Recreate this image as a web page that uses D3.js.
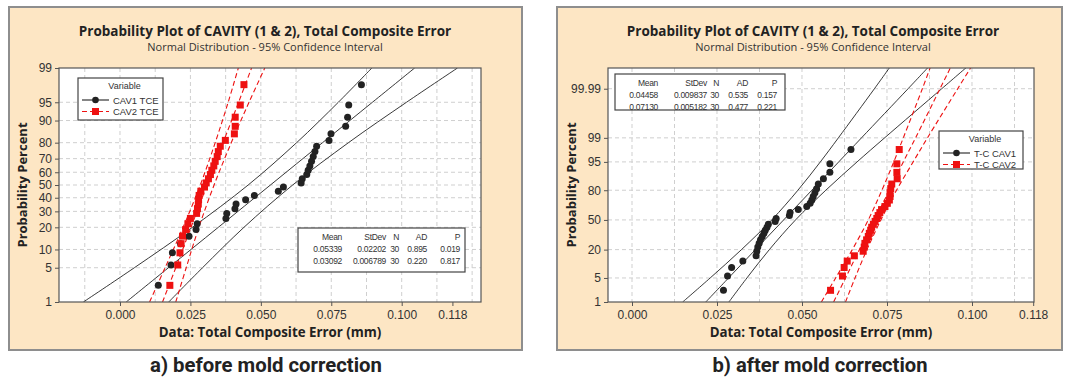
<!DOCTYPE html>
<html>
<head>
<meta charset="utf-8">
<script src="https://cdn.jsdelivr.net/npm/d3@7"></script>
<style>
  body { margin: 0; background: #fff; }
  svg { display: block; }
</style>
</head>
<body>
<svg id="chart" width="1065" height="377"></svg>
<script>
// median-rank plotting positions (%), n = 30
const plotPct = [2.30, 5.59, 8.88, 12.17, 15.46, 18.75, 22.04, 25.33, 28.62, 31.91,
  35.20, 38.49, 41.78, 45.07, 48.36, 51.64, 54.93, 58.22, 61.51, 64.80,
  68.09, 71.38, 74.67, 77.96, 81.25, 84.54, 87.83, 91.12, 94.41, 97.70];

// a) before mold correction
const beforeCav1 = [0.0136, 0.0181, 0.0186, 0.0215, 0.0245, 0.0270, 0.0274, 0.0376, 0.0379, 0.0408,
  0.0412, 0.0446, 0.0477, 0.0562, 0.0580, 0.0643, 0.0647, 0.0663, 0.0668, 0.0674,
  0.0680, 0.0686, 0.0692, 0.0698, 0.0742, 0.0749, 0.0801, 0.0808, 0.0812, 0.0857];
const beforeCav2 = [0.0177, 0.0205, 0.0213, 0.0217, 0.0222, 0.0233, 0.0241, 0.0250, 0.0272, 0.0275,
  0.0278, 0.0279, 0.0281, 0.0287, 0.0300, 0.0306, 0.0314, 0.0321, 0.0326, 0.0333,
  0.0338, 0.0345, 0.0349, 0.0356, 0.0374, 0.0406, 0.0409, 0.0409, 0.0427, 0.0440];
const beforeBandPct = [1, 5, 20, 50, 80, 95, 99];
const beforeCav1Lo  = [-0.0130, 0.0051, 0.0257, 0.0455, 0.0627, 0.0775, 0.0894];
const beforeCav1Fit = [0.0022, 0.0172, 0.0349, 0.0534, 0.0719, 0.0896, 0.1046];
const beforeCav1Hi  = [0.0173, 0.0293, 0.0440, 0.0613, 0.0811, 0.1017, 0.1198];
const beforeCav2Lo  = [0.0105, 0.0160, 0.0224, 0.0285, 0.0338, 0.0384, 0.0420];
const beforeCav2Fit = [0.0151, 0.0198, 0.0252, 0.0309, 0.0366, 0.0421, 0.0467];
const beforeCav2Hi  = [0.0198, 0.0235, 0.0280, 0.0334, 0.0395, 0.0458, 0.0514];
const beforeStats = [
  ['0.05339', '0.02202', '30', '0.895', '0.019'],
  ['0.03092', '0.006789', '30', '0.220', '0.817']
];

// b) after mold correction
const afterCav1 = [0.0269, 0.0281, 0.0293, 0.0326, 0.0365, 0.0367, 0.0370, 0.0374, 0.0378, 0.0383,
  0.0388, 0.0392, 0.0397, 0.0401, 0.0421, 0.0424, 0.0463, 0.0465, 0.0489, 0.0514,
  0.0524, 0.0529, 0.0533, 0.0538, 0.0543, 0.0548, 0.0563, 0.0582, 0.0582, 0.0644];
const afterCav2 = [0.0584, 0.0619, 0.0624, 0.0633, 0.0654, 0.0680, 0.0683, 0.0685, 0.0690, 0.0695,
  0.0698, 0.0702, 0.0705, 0.0710, 0.0715, 0.0720, 0.0724, 0.0729, 0.0734, 0.0744,
  0.0751, 0.0757, 0.0759, 0.0759, 0.0761, 0.0764, 0.0780, 0.0779, 0.0779, 0.0786];
const afterBandPct = [1, 5, 20, 50, 80, 95, 99, 99.99, 99.9995];
const afterCav1Lo  = [0.0149, 0.0230, 0.0322, 0.0411, 0.0488, 0.0554, 0.0607, 0.0713, 0.0765];
const afterCav1Fit = [0.0217, 0.0284, 0.0363, 0.0446, 0.0529, 0.0608, 0.0675, 0.0812, 0.0880];
const afterCav1Hi  = [0.0285, 0.0338, 0.0404, 0.0481, 0.0570, 0.0662, 0.0743, 0.0911, 0.0995];
const afterCav2Lo  = [0.0557, 0.0599, 0.0648, 0.0695, 0.0735, 0.0770, 0.0798, 0.0854, 0.0881];
const afterCav2Fit = [0.0593, 0.0628, 0.0669, 0.0713, 0.0757, 0.0798, 0.0834, 0.0906, 0.0942];
const afterCav2Hi  = [0.0628, 0.0656, 0.0691, 0.0732, 0.0778, 0.0827, 0.0869, 0.0958, 0.1003];
const afterStats = [
  ['0.04458', '0.009837', '30', '0.535', '0.157'],
  ['0.07130', '0.005182', '30', '0.477', '0.221']
];

// ticks
const xTicks = [0, 0.025, 0.05, 0.075, 0.1, 0.118];
const xGrid = [-0.0125, 0, 0.0125, 0.025, 0.0375, 0.05, 0.0625, 0.075, 0.0875, 0.1, 0.1125, 0.125];
const beforeYTicks = [1, 5, 10, 20, 30, 40, 50, 60, 70, 80, 90, 95, 99];
const afterYTicks = [1, 5, 20, 50, 80, 95, 99, 99.99];
const statHeader = ['Mean', 'StDev', 'N', 'AD', 'P'];

const FONT = '"Open Sans", "DejaVu Sans", sans-serif';
const SMALL = '"Liberation Sans", Arial, sans-serif';
const RED = '#ee1111';
const svg = d3.select('#chart');

// inverse normal CDF (Acklam)
function probit(p) {
  const a = [-3.969683028665376e+01, 2.209460984245205e+02, -2.759285104469687e+02, 1.383577518672690e+02, -3.066479806614716e+01, 2.506628277459239e+00];
  const b = [-5.447609879822406e+01, 1.615858368580409e+02, -1.556989798598866e+02, 6.680131188771972e+01, -1.328068155288572e+01];
  const c = [-7.784894002430293e-03, -3.223964580411365e-01, -2.400758277161838e+00, -2.549732539343734e+00, 4.374664141464968e+00, 2.938163982698783e+00];
  const d = [7.784695709041462e-03, 3.224671290700398e-01, 2.445134137142996e+00, 3.754408661907416e+00];
  const pl = 0.02425;
  let q, r;
  if (p < pl) {
    q = Math.sqrt(-2 * Math.log(p));
    return (((((c[0] * q + c[1]) * q + c[2]) * q + c[3]) * q + c[4]) * q + c[5]) / ((((d[0] * q + d[1]) * q + d[2]) * q + d[3]) * q + 1);
  }
  if (p <= 1 - pl) {
    q = p - 0.5; r = q * q;
    return (((((a[0] * r + a[1]) * r + a[2]) * r + a[3]) * r + a[4]) * r + a[5]) * q / (((((b[0] * r + b[1]) * r + b[2]) * r + b[3]) * r + b[4]) * r + 1);
  }
  q = Math.sqrt(-2 * Math.log(1 - p));
  return -(((((c[0] * q + c[1]) * q + c[2]) * q + c[3]) * q + c[4]) * q + c[5]) / ((((d[0] * q + d[1]) * q + d[2]) * q + d[3]) * q + 1);
}

// percent -> pixel, usable by d3.axis
function probScale(lin) {
  const s = p => lin(probit(p / 100));
  s.range = () => lin.range();
  s.domain = () => lin.domain();
  s.copy = () => probScale(lin.copy());
  return s;
}

function drawPanel(cfg, idx) {
  const { left, top, right, bottom } = cfg.plot;
  const x = d3.scaleLinear().domain(cfg.xDomain).range([left, right]);
  const zLin = d3.scaleLinear()
    .domain([probit(cfg.yDomain[0] / 100), probit(cfg.yDomain[1] / 100)])
    .range([bottom, top]);
  const y = probScale(zLin);
  const g = svg.append('g');

  // panel frame
  g.append('rect')
    .attr('x', cfg.panel[0]).attr('y', cfg.panel[1])
    .attr('width', cfg.panel[2]).attr('height', cfg.panel[3])
    .attr('fill', '#fde6c4').attr('stroke', '#8e8e8e').attr('stroke-width', 2);

  g.append('rect')
    .attr('x', left).attr('y', top)
    .attr('width', right - left).attr('height', bottom - top)
    .attr('fill', '#fff');

  g.append('clipPath').attr('id', 'clip' + idx)
    .append('rect')
    .attr('x', left).attr('y', top)
    .attr('width', right - left).attr('height', bottom - top);

  // grid
  const grid = g.append('g')
    .attr('stroke', '#cfcfcf').attr('stroke-width', 1).attr('stroke-dasharray', '4,3');
  grid.selectAll('.gx')
    .data(xGrid.filter(v => x(v) > left + 1 && x(v) < right - 1))
    .join('line')
    .attr('x1', d => x(d)).attr('x2', d => x(d))
    .attr('y1', top).attr('y2', bottom);
  grid.selectAll('.gy')
    .data(cfg.yTicks.filter(p => y(p) > top + 1 && y(p) < bottom - 1))
    .join('line')
    .attr('x1', left).attr('x2', right)
    .attr('y1', d => y(d)).attr('y2', d => y(d));

  const plotG = g.append('g').attr('clip-path', `url(#clip${idx})`);

  // fit lines and confidence bands
  cfg.series.forEach(s => {
    [s.lo, s.fit, s.hi].forEach(arr => {
      const line = d3.line()
        .x((d, i) => x(arr[i]))
        .y(d => y(d))
        .curve(d3.curveCatmullRom.alpha(0.5));
      plotG.append('path')
        .attr('d', line(cfg.bandPct))
        .attr('fill', 'none')
        .attr('stroke', s.color)
        .attr('stroke-width', s.dash ? 1.1 : 0.9)
        .attr('stroke-dasharray', s.dash || null);
    });
  });

  // points
  cfg.series.forEach(s => {
    if (s.marker === 'circle') {
      plotG.selectAll(null)
        .data(s.values)
        .join('circle')
        .attr('cx', d => x(d))
        .attr('cy', (d, i) => y(plotPct[i]))
        .attr('r', 3.5)
        .attr('fill', s.color);
    } else {
      plotG.selectAll(null)
        .data(s.values)
        .join('rect')
        .attr('x', d => x(d) - 3.5)
        .attr('y', (d, i) => y(plotPct[i]) - 3.5)
        .attr('width', 7).attr('height', 7)
        .attr('fill', s.color);
    }
  });

  // axes
  const xAxis = d3.axisBottom(x).tickValues(xTicks)
    .tickFormat(d3.format('.3f')).tickSize(4).tickSizeOuter(0).tickPadding(4);
  const yAxis = d3.axisLeft(y).tickValues(cfg.yTicks)
    .tickFormat(d => String(d)).tickSize(4).tickSizeOuter(0).tickPadding(3);
  const gx = g.append('g').attr('transform', `translate(0,${bottom})`).call(xAxis);
  const gy = g.append('g').attr('transform', `translate(${left},0)`).call(yAxis);
  [gx, gy].forEach(ax => {
    ax.select('.domain').remove();
    ax.selectAll('line').attr('stroke', '#555');
    ax.selectAll('text')
      .attr('fill', '#333')
      .style('font-family', SMALL)
      .style('font-size', '12px');
  });

  g.append('rect')
    .attr('x', left).attr('y', top)
    .attr('width', right - left).attr('height', bottom - top)
    .attr('fill', 'none').attr('stroke', '#555').attr('stroke-width', 1.2);

  // titles
  g.append('text')
    .attr('x', cfg.titleX).attr('y', 36)
    .attr('text-anchor', 'middle')
    .style('font-family', FONT).style('font-size', '13.5px').style('font-weight', 'bold')
    .attr('fill', '#222')
    .text('Probability Plot of CAVITY (1 & 2), Total Composite Error');
  g.append('text')
    .attr('x', cfg.titleX).attr('y', 51)
    .attr('text-anchor', 'middle')
    .style('font-family', FONT).style('font-size', '11px')
    .attr('fill', '#333')
    .text('Normal Distribution - 95% Confidence Interval');
  g.append('text')
    .attr('x', (left + right) / 2).attr('y', 337)
    .attr('text-anchor', 'middle')
    .style('font-family', FONT).style('font-size', '13.3px').style('font-weight', 'bold')
    .attr('fill', '#222')
    .text('Data: Total Composite Error (mm)');
  g.append('text')
    .attr('transform', `translate(${cfg.yTitleX},${(top + bottom) / 2}) rotate(-90)`)
    .attr('text-anchor', 'middle')
    .style('font-family', FONT).style('font-size', '13px').style('font-weight', 'bold')
    .attr('fill', '#222')
    .text('Probability Percent');

  // caption under the panel
  g.append('text')
    .attr('x', cfg.captionX).attr('y', 372)
    .attr('text-anchor', 'middle')
    .attr('textLength', cfg.captionWidth)
    .attr('lengthAdjust', 'spacingAndGlyphs')
    .style('font-family', '"Roboto", "Liberation Sans", sans-serif')
    .style('font-size', '20px').style('font-weight', 'bold')
    .attr('fill', '#222')
    .text(cfg.caption);

  // legend
  const lg = g.append('g').attr('transform', `translate(${cfg.legend[0]},${cfg.legend[1]})`);
  lg.append('rect')
    .attr('width', cfg.legend[2]).attr('height', cfg.legend[3])
    .attr('fill', '#fff').attr('stroke', '#444').attr('stroke-width', 1.2);
  lg.append('text')
    .attr('x', cfg.legend[2] / 2 + 4).attr('y', 11)
    .attr('text-anchor', 'middle')
    .style('font-family', SMALL).style('font-size', '9px')
    .attr('fill', '#333').text('Variable');
  cfg.series.forEach((s, i) => {
    const yy = 22 + i * 11.5;
    lg.append('line')
      .attr('x1', 4).attr('x2', 31).attr('y1', yy).attr('y2', yy)
      .attr('stroke', s.color).attr('stroke-width', 1.1)
      .attr('stroke-dasharray', s.dash || null);
    if (s.marker === 'circle') {
      lg.append('circle').attr('cx', 17.5).attr('cy', yy).attr('r', 3.3).attr('fill', s.color);
    } else {
      lg.append('rect').attr('x', 14).attr('y', yy - 3.5).attr('width', 7).attr('height', 7).attr('fill', s.color);
    }
    lg.append('text')
      .attr('x', 35).attr('y', yy + 3.5)
      .style('font-family', SMALL).style('font-size', '9.5px')
      .attr('fill', '#333').text(s.name);
  });

  // statistics table
  const tg = g.append('g').attr('transform', `translate(${cfg.table[0]},${cfg.table[1]})`);
  tg.append('rect')
    .attr('width', cfg.table[2]).attr('height', cfg.table[3])
    .attr('fill', '#fff').attr('stroke', '#444').attr('stroke-width', 1.2);
  const rows = [statHeader].concat(cfg.stats);
  rows.forEach((row, r) => {
    row.forEach((cell, c) => {
      tg.append('text')
        .attr('x', cfg.tableCols[c]).attr('y', 12 + r * 12)
        .attr('text-anchor', 'end')
        .style('font-family', SMALL).style('font-size', '8.5px')
        .style('letter-spacing', '-0.3px')
        .attr('fill', '#333').text(cell);
    });
  });
}

drawPanel({
  panel: [9, 7, 513, 343],
  plot: { left: 59, top: 68, right: 481, bottom: 302 },
  xDomain: [-0.02165, 0.12815],
  yDomain: [1, 99],
  yTicks: beforeYTicks,
  bandPct: beforeBandPct,
  titleX: 265, yTitleX: 27, captionX: 266, captionWidth: 232,
  caption: 'a) before mold correction',
  legend: [78, 78, 85, 42],
  table: [298, 228, 167, 44],
  tableCols: [44, 88, 101, 129, 162],
  stats: beforeStats,
  series: [
    { name: 'CAV1 TCE', values: beforeCav1, lo: beforeCav1Lo, fit: beforeCav1Fit, hi: beforeCav1Hi, color: '#222', marker: 'circle' },
    { name: 'CAV2 TCE', values: beforeCav2, lo: beforeCav2Lo, fit: beforeCav2Fit, hi: beforeCav2Hi, color: RED, marker: 'square', dash: '5,3' }
  ]
}, 0);

drawPanel({
  panel: [557, 7, 505, 343],
  plot: { left: 608, top: 68, right: 1034, bottom: 302 },
  xDomain: [-0.00706, 0.11824],
  yDomain: [1, 99.99917],
  yTicks: afterYTicks,
  bandPct: afterBandPct,
  titleX: 813, yTitleX: 576, captionX: 820, captionWidth: 215,
  caption: 'b) after mold correction',
  legend: [939, 131, 84, 38],
  table: [615, 74, 170, 36],
  tableCols: [43, 92, 104, 133, 162],
  stats: afterStats,
  series: [
    { name: 'T-C CAV1', values: afterCav1, lo: afterCav1Lo, fit: afterCav1Fit, hi: afterCav1Hi, color: '#222', marker: 'circle' },
    { name: 'T-C CAV2', values: afterCav2, lo: afterCav2Lo, fit: afterCav2Fit, hi: afterCav2Hi, color: RED, marker: 'square', dash: '5,3' }
  ]
}, 1);
</script>
</body>
</html>
